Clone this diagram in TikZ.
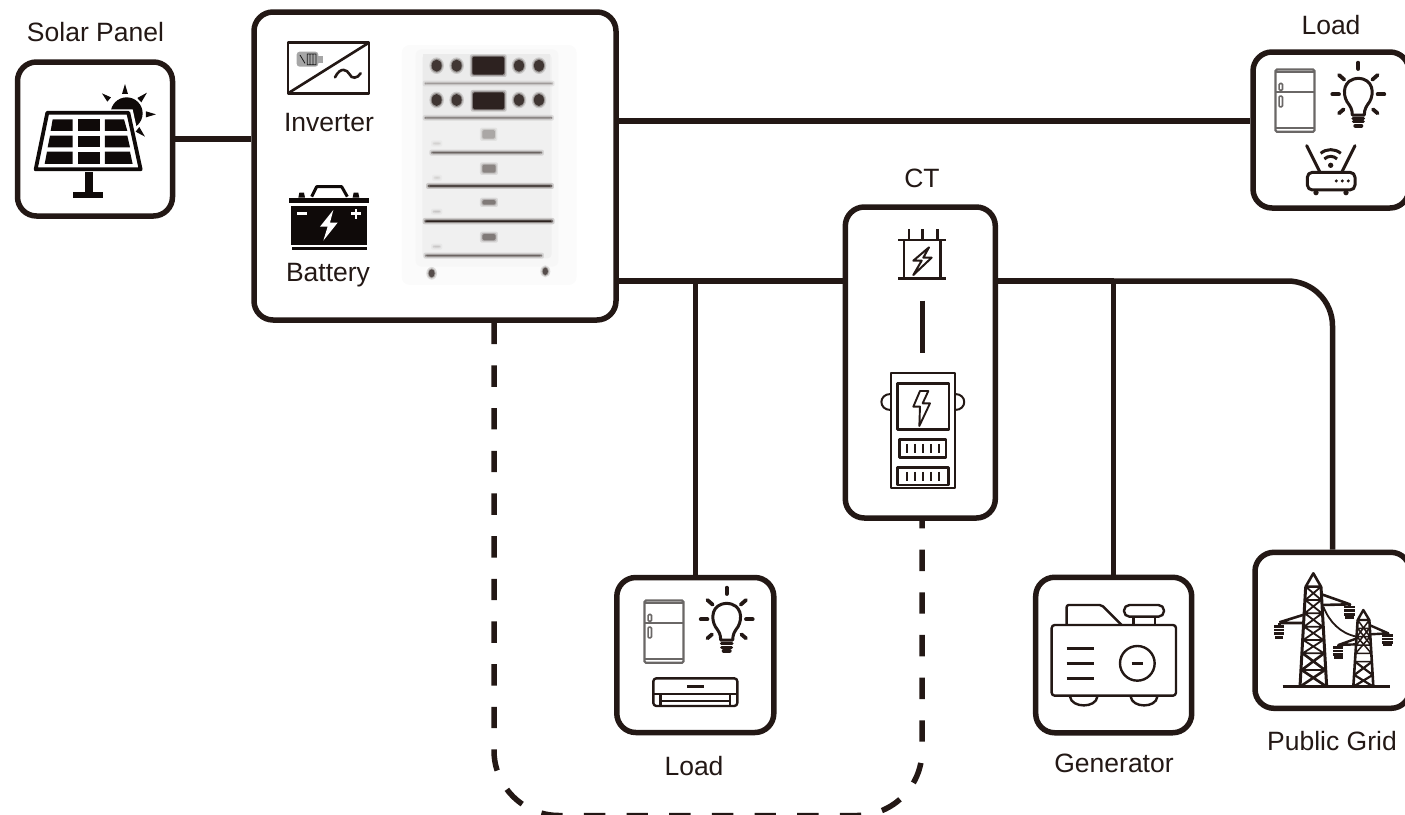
\documentclass[tikz,border=0pt]{standalone}
\usepackage{fontspec}
\setmainfont{Liberation Sans}
\definecolor{ink}{HTML}{231815}
\definecolor{deep}{HTML}{0F0A09}
\definecolor{fridgegray}{HTML}{6A6766}
\tikzset{
  box/.style={draw=ink,line width=5.5pt,rounded corners=19pt,inner sep=0pt,fill=none},
  wire/.style={draw=ink,line width=5.5pt},
  dashwire/.style={draw=ink,line width=5.5pt,dash pattern=on 21.4pt off 21.27pt,rounded corners=65pt},
  lab/.style={text=ink,font=\fontsize{26.5}{30}\selectfont,inner sep=0pt},
  ico/.style={draw=ink,line width=2.4pt,line join=round},
  thinico/.style={draw=ink,line width=1.6pt,line join=round},
}
% blurred shapes used for the photograph of the battery stack
\newcommand{\blurblob}[5]{%
  \fill[#5,opacity=.18,rounded corners=2pt] (#1-7,#2-7) rectangle (#3+7,#4+7);
  \fill[#5,opacity=.35,rounded corners=2pt] (#1-3,#2-3) rectangle (#3+3,#4+3);
  \fill[#5,opacity=.9,rounded corners=1.5pt] (#1,#2) rectangle (#3,#4);
}
\newcommand{\blurknob}[4]{%
  \fill[#4,opacity=.18] (#1,#2) ellipse ({#3+7} and {#3+10});
  \fill[#4,opacity=.35] (#1,#2) ellipse ({#3+3} and {#3+6});
  \fill[#4,opacity=.92] (#1,#2) ellipse (#3 and {#3+3});
}
\newcommand{\fridgeicon}[2]{%
  \begin{scope}[shift={(#1,#2)},x=.3333pt,y=-.3333pt]
    \draw[draw=fridgegray,line width=2.2pt,rounded corners=1.5pt] (0,0) rectangle (117,187);
    \draw[draw=fridgegray,line width=2.2pt] (0,8) -- (117,8);
    \draw[draw=fridgegray,line width=2.6pt] (0,68) -- (117,68);
    \draw[draw=fridgegray,line width=2.2pt] (0,176) -- (117,176);
    \draw[draw=fridgegray,line width=1.6pt,rounded corners=1pt] (11,42) rectangle (21,62);
    \draw[draw=fridgegray,line width=1.6pt,rounded corners=1pt] (11,80) rectangle (21,112);
  \end{scope}}
\newcommand{\bulbicon}[2]{%
  \begin{scope}[shift={(#1,#2)},x=.3333pt,y=-.3333pt]
    \draw[ico,line width=3pt] (-18,60) .. controls (-18,42) and (-24,34) .. (-34,20)
       .. controls (-48,-4) and (-46,-48) .. (0,-50)
       .. controls (46,-48) and (48,-4) .. (34,20)
       .. controls (24,34) and (18,42) .. (18,60) -- cycle;
    \draw[ico,line width=3pt,line cap=round] (-16,70) -- (16,70) (-15,81) -- (15,81);
    \draw[ico,line width=4pt,line cap=round] (-9,92) -- (9,92);
    \foreach \a/\b/\c/\d in {0/-78/0/-97, -58/-60/-42/-46, 58/-60/42/-46, -78/-2/-58/-2, 78/-2/58/-2, -58/55/-44/43, 58/55/44/43}
      \draw[ico,line width=3.8pt,line cap=round] (\a,\b) -- (\c,\d);
  \end{scope}}
\begin{document}
\begin{tikzpicture}[x=1pt,y=-1pt]
\useasboundingbox (0,0) rectangle (1405,814);
% boxes
\node[box,minimum width=155,minimum height=154] (solar) at (95,139) {};
\node[box,minimum width=362,minimum height=308] (main) at (435,166) {};
\node[box,minimum width=156,minimum height=156] (loadT) at (1331,130) {};
\node[box,minimum width=150,minimum height=311] (ct) at (920.3,362.5) {};
\node[box,minimum width=157,minimum height=155] (loadB) at (695.3,655) {};
\node[box,minimum width=156,minimum height=155.5] (gen) at (1113.7,655) {};
\node[box,minimum width=155,minimum height=156] (grid) at (1332.5,630.3) {};
% labels
\node[lab] (tSolar) at (95.5,32) {Solar Panel};
\node[lab] (tInv) at (329,122.5) {Inverter};
\node[lab] (tBat) at (328,275.5) {Battery};
\node[lab] (tLoadT) at (1331,25) {Load};
\node[lab] (tCT) at (922,178) {CT};
\node[lab] (tLoadB) at (694,766) {Load};
\node[lab] (tGen) at (1114,763) {Generator};
\node[lab] (tGrid) at (1332,741) {Public Grid};
% helper coordinates
\coordinate (busA) at (0,121);
\coordinate (busB) at (0,281);
\coordinate (dashL) at (494,815.5);
\coordinate (dashR) at (922,815.5);
% connectors
\draw[wire] (solar.east) -- (solar.east -| main.west);
\draw[wire] (main.east |- busA) -- (loadT.west |- busA);
\draw[wire] (main.east |- busB) -- (ct.west |- busB);
\draw[wire] (loadB.north |- busB) -- (loadB.north);
\draw[wire] (ct.east |- busB) -- (gen.north |- busB);
\draw[wire] (gen.north |- busB) -- (gen.north);
\draw[wire,rounded corners=45pt] (gen.north |- busB) -- (grid.north |- busB) -- (grid.north);
\draw[dashwire] (main.south -| dashL) -- (dashL) -- (dashR) -- (ct.south -| dashR);
% solar icon
\begin{scope}[shift={(20,70)},x=.3333pt,y=-.3333pt]
  \fill[deep] (320,130) circle (48);
  \fill[white] (70,118) -- (338,118) -- (380,310) -- (35,310) -- cycle;
  \draw[draw=deep,line width=3.8pt,line join=round] (82,128) -- (325,128) -- (362,298) -- (47,298) -- cycle;
  \fill[deep] (98,148) -- (158,148) -- (158,183) -- (92,183) -- cycle;
  \fill[deep] (175,148) rectangle (240,183);
  \fill[deep] (255,148) -- (312,148) -- (322,183) -- (255,183) -- cycle;
  \fill[deep] (90,197) -- (158,197) -- (158,232) -- (83,232) -- cycle;
  \fill[deep] (175,197) rectangle (240,232);
  \fill[deep] (255,197) -- (322,197) -- (330,232) -- (255,232) -- cycle;
  \fill[deep] (81,245) -- (158,245) -- (158,282) -- (74,282) -- cycle;
  \fill[deep] (175,245) rectangle (240,282);
  \fill[deep] (255,245) -- (330,245) -- (338,282) -- (255,282) -- cycle;
  \fill[deep] (195,305) rectangle (218,368);
  \fill[deep] (160,365) rectangle (250,385);
  \fill[deep] (315,42) -- (306,72) -- (324,72) -- cycle;
  \fill[deep] (246,70) -- (262,95) -- (273,82) -- cycle;
  \fill[deep] (381,68) -- (352,84) -- (364,97) -- cycle;
  \fill[deep] (408,133) -- (378,124) -- (378,142) -- cycle;
  \fill[deep] (375,200) -- (347,185) -- (358,171) -- cycle;
\end{scope}
% inverter icon
\begin{scope}[shift={(270,30)},x=.3333pt,y=-.3333pt]
  \draw[ico,line width=2.6pt] (54,38) rectangle (297,190);
  \draw[ico,line width=2.6pt] (54,190) -- (297,38);
  \fill[gray!70,rounded corners=3pt] (80,65) rectangle (145,110);
  \fill[gray!70] (145,78) rectangle (160,98);
  \draw[gray!20!black,line width=.8pt] (112,72) rectangle (138,104) (120,72) -- (120,104) (129,72) -- (129,104) (90,75) -- (105,100);
  \draw[ink,line width=2.6pt,line cap=round] (195,142) .. controls (212,108) and (232,120) .. (238,132) .. controls (245,148) and (262,146) .. (272,130);
\end{scope}
% battery icon
\begin{scope}[shift={(270,30)},x=.3333pt,y=-.3333pt]
  \draw[deep,line width=3pt,line join=round] (125,500) -- (140,470) -- (215,470) -- (232,500);
  \fill[deep] (85,503) -- (88,488) -- (102,488) -- (105,503) -- cycle;
  \fill[deep] (248,503) -- (251,488) -- (265,488) -- (268,503) -- cycle;
  \fill[deep] (57,503) rectangle (296,520);
  \fill[deep] (64,528) rectangle (290,645);
  \fill[deep] (66,651) rectangle (290,660);
  \fill[white] (82,547) rectangle (110,556);
  \fill[white] (243,547) rectangle (273,556);
  \fill[white] (254,536) rectangle (262,567);
  \fill[white] (190,540) -- (150,590) -- (173,590) -- (160,632) -- (203,578) -- (180,578) -- cycle;
\end{scope}
% battery stack photograph
\begin{scope}[shift={(395,40)},x=.3333pt,y=-.3333pt]
  \fill[black!1.5,rounded corners=8pt] (20,15) rectangle (545,735);
  \fill[black!3,rounded corners=6pt] (62,28) rectangle (490,680);
  \fill[black!6,rounded corners=4pt] (82,42) rectangle (470,655);
  \fill[black!8] (85,42) rectangle (465,225);
  \blurknob{125}{77}{15}{ink!90}
  \blurknob{185}{77}{15}{ink!90}
  \blurknob{372}{77}{15}{ink!90}
  \blurknob{432}{77}{15}{ink!90}
  \blurblob{232}{50}{328}{104}{ink}
  \blurknob{125}{180}{15}{ink!90}
  \blurknob{185}{180}{15}{ink!90}
  \blurknob{372}{180}{15}{ink!90}
  \blurknob{432}{180}{15}{ink!90}
  \blurblob{234}{157}{328}{208}{ink}
  \blurblob{90}{129}{472}{132}{ink!45}
  \blurblob{90}{232}{470}{235}{ink!65}
  \blurblob{110}{336}{440}{340}{ink!70}
  \blurblob{100}{436}{470}{440}{ink}
  \blurblob{90}{541}{472}{546}{ink}
  \blurblob{92}{645}{440}{649}{ink!70}
  \blurblob{262}{270}{300}{296}{ink!40}
  \blurblob{262}{374}{302}{398}{ink!55}
  \blurblob{262}{480}{302}{494}{ink!60}
  \blurblob{262}{582}{302}{601}{ink!60}
  \blurblob{115}{308}{135}{313}{ink!20}
  \blurblob{118}{411}{134}{416}{ink!20}
  \blurblob{115}{513}{135}{517}{ink!25}
  \blurblob{115}{618}{135}{622}{ink!25}
  \blurknob{110}{700}{9}{ink!80}
  \blurknob{451}{694}{8}{ink!80}
\end{scope}
% top-right load
\fridgeicon{1275.5}{69.5}
\bulbicon{1358.3}{95}
\begin{scope}[shift={(1240,10)},x=.3333pt,y=-.3333pt]
  \draw[ico,line width=3pt,rounded corners=5pt] (202,487) rectangle (345,540);
  \draw[ico,line width=3pt,line cap=round] (200,407) -- (240,487) (345,407) -- (305,487);
  \fill[ink] (228,548) circle (8) (318,548) circle (8);
  \fill[ink] (289,513) circle (5) (307,513) circle (5) (325,513) circle (5);
  \fill[ink] (272,466) circle (8);
  \draw[ink,line width=3pt] (253,447) arc (-135:-45:27);
  \draw[ink,line width=3pt] (242,430) arc (-130:-50:47);
\end{scope}
% ct icon
\begin{scope}[shift={(830,190)},x=.3333pt,y=-.3333pt]
  \draw[ico] (205,150) -- (348,150) (205,265) -- (348,265) (222,150) -- (222,265) (332,150) -- (332,265)
     (237,118) -- (237,150) (278,118) -- (278,150) (322,118) -- (322,150);
  \draw[ico,line width=2pt,fill=white] (297,172) -- (250,212) -- (275,212) -- (250,255) -- (305,203) -- (280,203) -- cycle;
  \draw[draw=ink,line width=5pt] (277,332) -- (277,488);
  \draw[ico,line width=2pt] (182,550) rectangle (375,895);
  \draw[ico,line width=2pt] (182,612) .. controls (145,612) and (145,660) .. (182,660);
  \draw[ico,line width=2pt] (375,612) .. controls (412,612) and (412,660) .. (375,660);
  \draw[ico] (202,580) rectangle (357,718);
  \draw[ico,line width=1.9pt] (270,603) -- (250,650) -- (270,650) -- (268,708) -- (300,640) -- (278,640) -- (295,603) -- cycle;
  \draw[ico] (208,748) rectangle (348,802);
  \draw[ico] (202,832) rectangle (355,885);
  \foreach \x in {232,255,278,302,327} {
    \draw[ico,line width=2pt] (\x,762) -- (\x,790);
    \draw[ico,line width=2pt] (\x,846) -- (\x,874);
  }
\end{scope}
% bottom load
\fridgeicon{644.5}{600.5}
\bulbicon{726.7}{620}
\begin{scope}[shift={(600,570)},x=.3333pt,y=-.3333pt]
  \draw[ico,rounded corners=3pt] (160,325) rectangle (412,408);
  \draw[ico] (160,372) -- (412,372);
  \draw[ico] (182,372) -- (182,406) (390,372) -- (390,406) (182,393) -- (390,393);
  \draw[ico,line width=2.8pt] (262,350) -- (312,350);
\end{scope}
% generator icon
\begin{scope}[shift={(1020,545)},x=.3333pt,y=-.3333pt]
  \draw[ico,rounded corners=3pt] (95,240) rectangle (468,452);
  \draw[ico,rounded corners=2pt] (140,240) -- (140,180) -- (245,180) -- (305,240);
  \draw[ico,rounded corners=5.5pt] (312,180) rectangle (432,215);
  \draw[ico] (340,215) -- (340,240) (405,215) -- (405,240);
  \draw[ico] (140,310) -- (222,310) (140,355) -- (222,355) (140,400) -- (222,400);
  \draw[ico] (352,355) circle (52);
  \draw[ico] (335,355) -- (368,355);
  \draw[ico] (150,455) .. controls (155,490) and (228,490) .. (232,455);
  \draw[ico] (332,455) .. controls (337,490) and (408,490) .. (412,455);
\end{scope}
% grid icon
\begin{scope}[shift={(1260,565)},x=.3333pt,y=-.3333pt]
  \draw[ico,line width=2.8pt] (68,365) -- (390,365);
  % large tower
  \draw[ico,line width=2.6pt] (137,65) -- (160,25) -- (183,65) -- cycle;
  \draw[ico,line width=3pt] (137,65) -- (120,365) (183,65) -- (200,365);
  \draw[thinico,line width=1.8pt] (136,105) -- (184,105) (134,145) -- (186,145) (132,185) -- (188,185) (130,225) -- (190,225) (128,265) -- (192,265) (125,315) -- (195,315)
     (137,65) -- (184,105) (183,65) -- (136,105) (136,105) -- (186,145) (184,105) -- (134,145)
     (134,145) -- (188,185) (186,145) -- (132,185) (132,185) -- (190,225) (188,185) -- (130,225)
     (130,225) -- (192,265) (190,225) -- (128,265);
  \draw[ico,line width=2.6pt] (128,265) -- (195,315) -- (120,365) (192,265) -- (125,315) -- (200,365);
  \draw[ico,line width=2.6pt] (58,172) -- (135,148) (58,174) -- (134,174);
  \draw[ico,line width=2.6pt] (185,88) -- (270,118) -- (185,120);
  \draw[ico] (58,174) -- (58,184);
  \draw[ico,line width=2.6pt] (42,184) -- (72,184) (42,195) -- (72,195) (42,206) -- (72,206) (45,217) -- (69,217);
  \draw[ico,line width=2.6pt] (252,126) -- (284,126) (252,137) -- (284,137) (252,148) -- (284,148) (255,158) -- (281,158) (268,118) -- (268,126);
  \draw[thinico,line width=1.8pt] (190,125) .. controls (208,170) and (240,205) .. (290,215);
  % small tower
  \draw[ico,line width=2.4pt] (293,165) -- (310,135) -- (328,165) -- cycle;
  \draw[ico,line width=2.6pt] (293,165) -- (280,365) (328,165) -- (340,365);
  \draw[thinico,line width=1.5pt] (293,190) -- (326,190) (291,215) -- (330,215) (289,240) -- (332,240) (287,265) -- (334,265) (285,290) -- (336,290)
     (293,165) -- (330,215) (328,165) -- (291,215) (291,215) -- (334,265) (330,215) -- (287,265) (293,190) -- (332,240) (328,190) -- (289,240);
  \draw[ico,line width=2.2pt] (285,290) -- (338,330) -- (280,365) (336,290) -- (283,330) -- (340,365);
  \draw[ico,line width=2.4pt] (328,180) -- (385,205) -- (330,208);
  \draw[ico,line width=2.4pt] (291,220) -- (235,240) -- (289,238);
  \draw[ico,line width=2.6pt] (367,212) -- (399,212) (367,222) -- (399,222) (367,232) -- (399,232) (370,240) -- (396,240);
  \draw[ico,line width=2.6pt] (220,248) -- (250,248) (220,258) -- (250,258) (220,268) -- (250,268) (222,277) -- (248,277) (235,240) -- (235,248);
\end{scope}
\end{tikzpicture}
\end{document}
